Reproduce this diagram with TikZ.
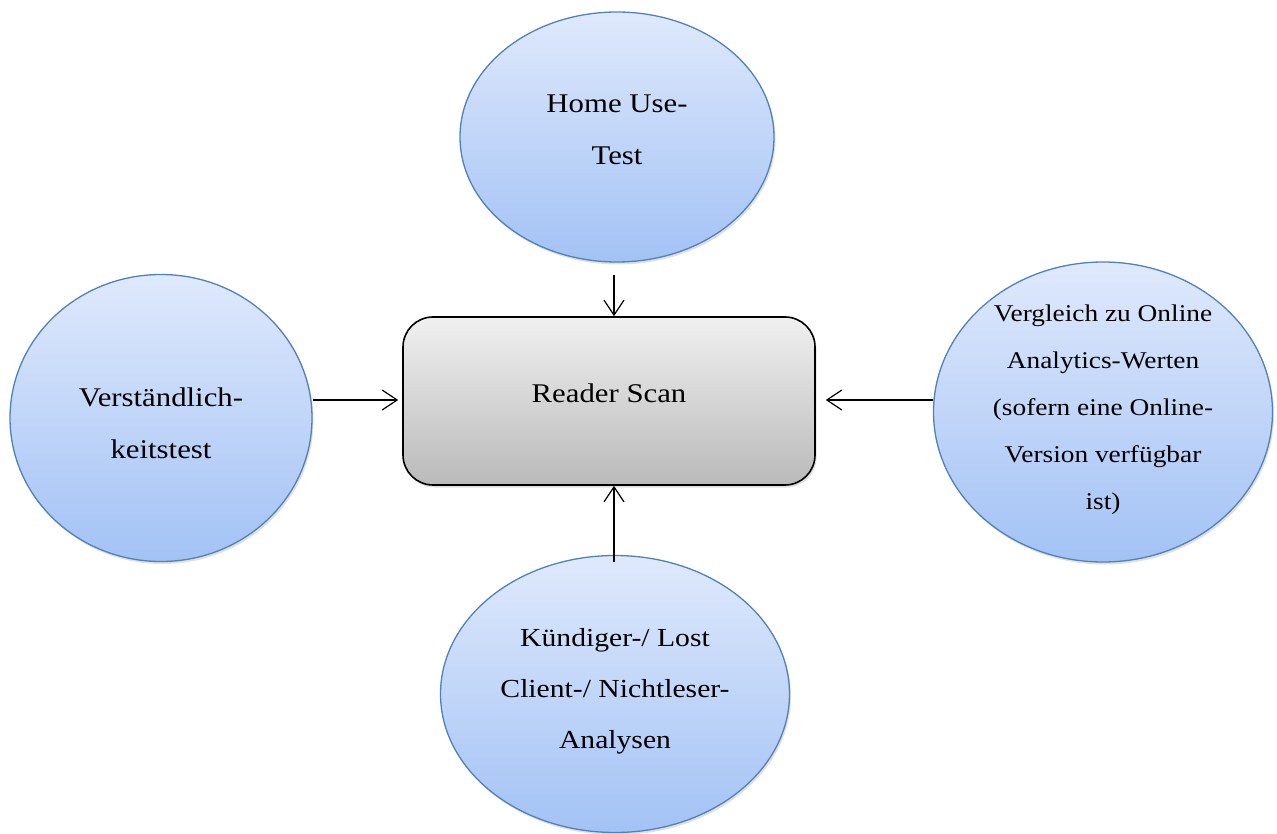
\documentclass[tikz,border=0pt]{standalone}
\usepackage{fontspec}
\setmainfont[FakeStretch=1.14]{Liberation Serif}
\usetikzlibrary{shadows,arrows.meta,shapes.geometric}
\newcommand\liftby[4]{\makebox[0pt]{\smash{\fontsize{#1}{#3}\selectfont\raisebox{#2}{\begin{tabular}{@{}c@{}}#4\end{tabular}}}}}
\begin{document}
\begin{tikzpicture}[x=1pt,y=-1pt,
  bubble/.style={ellipse,draw=bubbleborder,line width=1.3pt,top color=bubbletop,bottom color=bubblebot,
    drop shadow={shadow xshift=1.5pt,shadow yshift=-2.5pt,opacity=0.25},inner sep=0pt},
  corebox/.style={rounded corners=30pt,draw=black,line width=1.6pt,top color=boxtop,bottom color=boxbot,
    drop shadow={shadow xshift=1.5pt,shadow yshift=-2.5pt,opacity=0.25},inner sep=0pt},
  conn/.style={line width=1.2pt,-{Straight Barb[length=15pt,width=20pt,line width=1.2pt]}}]
\definecolor{bubbleborder}{HTML}{4F81BD}
\definecolor{bubbletop}{HTML}{DFE9FC}
\definecolor{bubblebot}{HTML}{A3C2F5}
\definecolor{boxtop}{HTML}{F0F0F0}
\definecolor{boxbot}{HTML}{BABABA}
\useasboundingbox (0,0) rectangle (1277,834);
\node[corebox,minimum width=412pt,minimum height=168pt] (rs) at (609,401) {\liftby{27}{-2pt}{30}{Reader Scan}};
\node[bubble,minimum width=314pt,minimum height=250pt] (top) at (617,137) {\liftby{27}{3pt}{52}{Home Use-\\Test}};
\node[bubble,minimum width=302pt,minimum height=287pt] (left) at (161,418) {\liftby{27}{-10pt}{52}{Verständlich-\\keitstest}};
\node[bubble,minimum width=339pt,minimum height=300pt] (right) at (1103,412) {\liftby{24}{0pt}{47}{Vergleich zu Online\\Analytics-Werten\\(sofern eine Online-\\Version verfügbar\\ist)}};
\node[bubble,minimum width=349pt,minimum height=277pt] (bot) at (615,694) {\liftby{26}{0pt}{51}{Kündiger-/ Lost\\Client-/ Nichtleser-\\Analysen}};
\coordinate (ta) at (614,275);
\coordinate (la) at (313,400);
\coordinate (ra) at (933,400);
\coordinate (ba) at (614,562);
\draw[conn] (ta) -- (rs.north -| ta);
\draw[conn] (la) -- ([xshift=-4pt]rs.west |- la);
\draw[conn] (ra) -- ([xshift=10pt]rs.east |- ra);
\draw[conn] (ba) -- (rs.south -| ba);
\end{tikzpicture}
\end{document}
